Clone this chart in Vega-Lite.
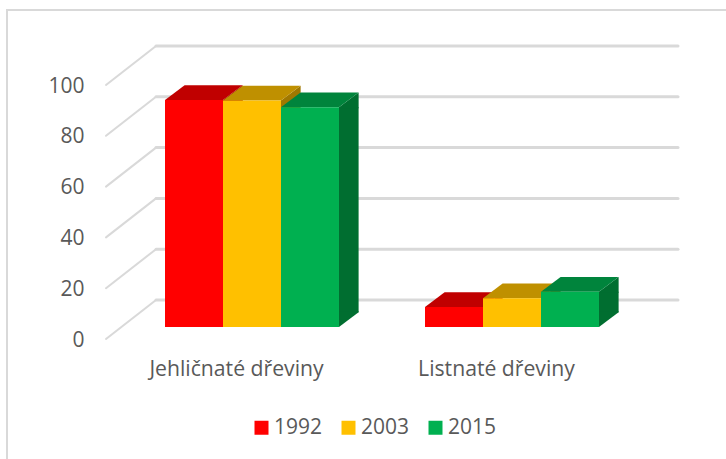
{
"$schema":"https://vega.github.io/schema/vega-lite/v6.json",
"width":726,"height":459,"padding":0,"autosize":{"type":"none"},"background":"white",
"config":{"view":{"stroke":null},"axis":{"labelFont":"Open Sans","labelFontSize":21,"labelColor":"#595959","domain":false,"ticks":false,"grid":false,"title":null},"legend":{"labelFont":"Open Sans","labelFontSize":21,"labelColor":"#595959"}},
"datasets":{
"bars":[
{"cat":"Jehličnaté dřeviny","year":"1992","value":89.4},
{"cat":"Jehličnaté dřeviny","year":"2003","value":89.2},
{"cat":"Jehličnaté dřeviny","year":"2015","value":86.5},
{"cat":"Listnaté dřeviny","year":"1992","value":7.9},
{"cat":"Listnaté dřeviny","year":"2003","value":11.3},
{"cat":"Listnaté dřeviny","year":"2015","value":13.9}],
"ticks":[{"value":0},{"value":20},{"value":40},{"value":60},{"value":80},{"value":100}]
},
"encoding":{
"x":{"field":"cat","type":"nominal","sort":null,"title":null,"scale":{"domain":["Jehličnaté dřeviny","Listnaté dřeviny"],"range":[122,642],"paddingInner":0.3308,"paddingOuter":0.1654},"axis":{"labelAngle":0,"labelOffset":-15.5,"labelPadding":-83.3,"labelBaseline":"alphabetic","labelFontSize":21.2}},
"y":{"field":"value","type":"quantitative","stack":null,"title":null,"scale":{"domain":[0,100],"range":[327,73],"nice":false},"axis":{"values":[0,20,40,60,80,100],"labelPadding":-84,"labelOffset":13,"labelAlign":"right","labelBaseline":"middle"}}
},
"layer":[
{"data":{"values":[{"value":0}]},"mark":{"type":"point","filled":false,"opacity":1,"size":4,"stroke":"#d9d9d9","strokeWidth":2,"shape":"M-245,140 L-245,-317 L480,-317"},"encoding":{"x":{"datum":"Jehličnaté dřeviny"}}},
{"data":{"name":"ticks"},"mark":{"type":"point","filled":false,"opacity":1,"size":4,"stroke":"#d9d9d9","strokeWidth":2,"strokeCap":"round","shape":"M-146,12 L-96,-27"},"encoding":{"x":{"datum":"Jehličnaté dřeviny"}}},
{"data":{"name":"ticks"},"mark":{"type":"point","filled":false,"opacity":1,"size":4,"stroke":"#d9d9d9","strokeWidth":3,"strokeCap":"round","shape":"M-96,-27 L426,-27"},"encoding":{"x":{"datum":"Jehličnaté dřeviny"}}},
{"data":{"name":"bars"},"mark":{"type":"rule","strokeWidth":19.6,"y2Offset":-14.7},"encoding":{"xOffset":{"field":"year","type":"nominal","scale":{"domain":["1992","2003","2015"],"range":[38.8,212.8]}},"y2":{"datum":0},"color":{"field":"year","type":"nominal","legend":null,"scale":{"domain":["1992","2003","2015"],"range":["#a00000","#a07800","#006e30"]}}}},
{"data":{"name":"bars"},"mark":{"type":"point","filled":true,"opacity":1,"size":4,"strokeWidth":0,"shape":"M29,0 L48.6,-14.7 L48.6,1 L29,1 Z"},"encoding":{"xOffset":{"field":"year","type":"nominal"},"color":{"field":"year","type":"nominal","legend":null,"scale":{"domain":["1992","2003","2015"],"range":["#a00000","#a07800","#006e30"]}}}},
{"data":{"name":"bars"},"mark":{"type":"point","filled":true,"opacity":1,"size":4,"strokeWidth":0,"shape":"M29,0 L48.6,-14.7 L48.6,-15.7 L29,-15.7 Z"},"encoding":{"y":{"datum":0},"xOffset":{"field":"year","type":"nominal"},"color":{"field":"year","type":"nominal","legend":null,"scale":{"domain":["1992","2003","2015"],"range":["#a00000","#a07800","#006e30"]}}}},
{"data":{"name":"bars"},"mark":{"type":"point","filled":true,"opacity":1,"size":4,"strokeWidth":0,"shape":"M-29,0 L-9.4,-14.7 L48.6,-14.7 L29,0 Z"},"encoding":{"xOffset":{"field":"year","type":"nominal"},"color":{"field":"year","type":"nominal","legend":null,"scale":{"domain":["1992","2003","2015"],"range":["#c00000","#bf9000","#00843c"]}}}},
{"data":{"name":"bars"},"mark":{"type":"bar"},"encoding":{"xOffset":{"field":"year","type":"nominal"},"color":{"field":"year","type":"nominal","title":null,"scale":{"domain":["1992","2003","2015"],"range":["#ff0000","#ffc000","#00b050"]},"legend":{"orient":"none","legendX":251,"legendY":417,"direction":"horizontal","columns":3,"symbolType":"square","symbolSize":196,"symbolStrokeWidth":0,"labelOffset":2,"columnPadding":15,"padding":0}}}}
],
"resolve":{"scale":{"color":"independent","xOffset":"independent"}}
}
